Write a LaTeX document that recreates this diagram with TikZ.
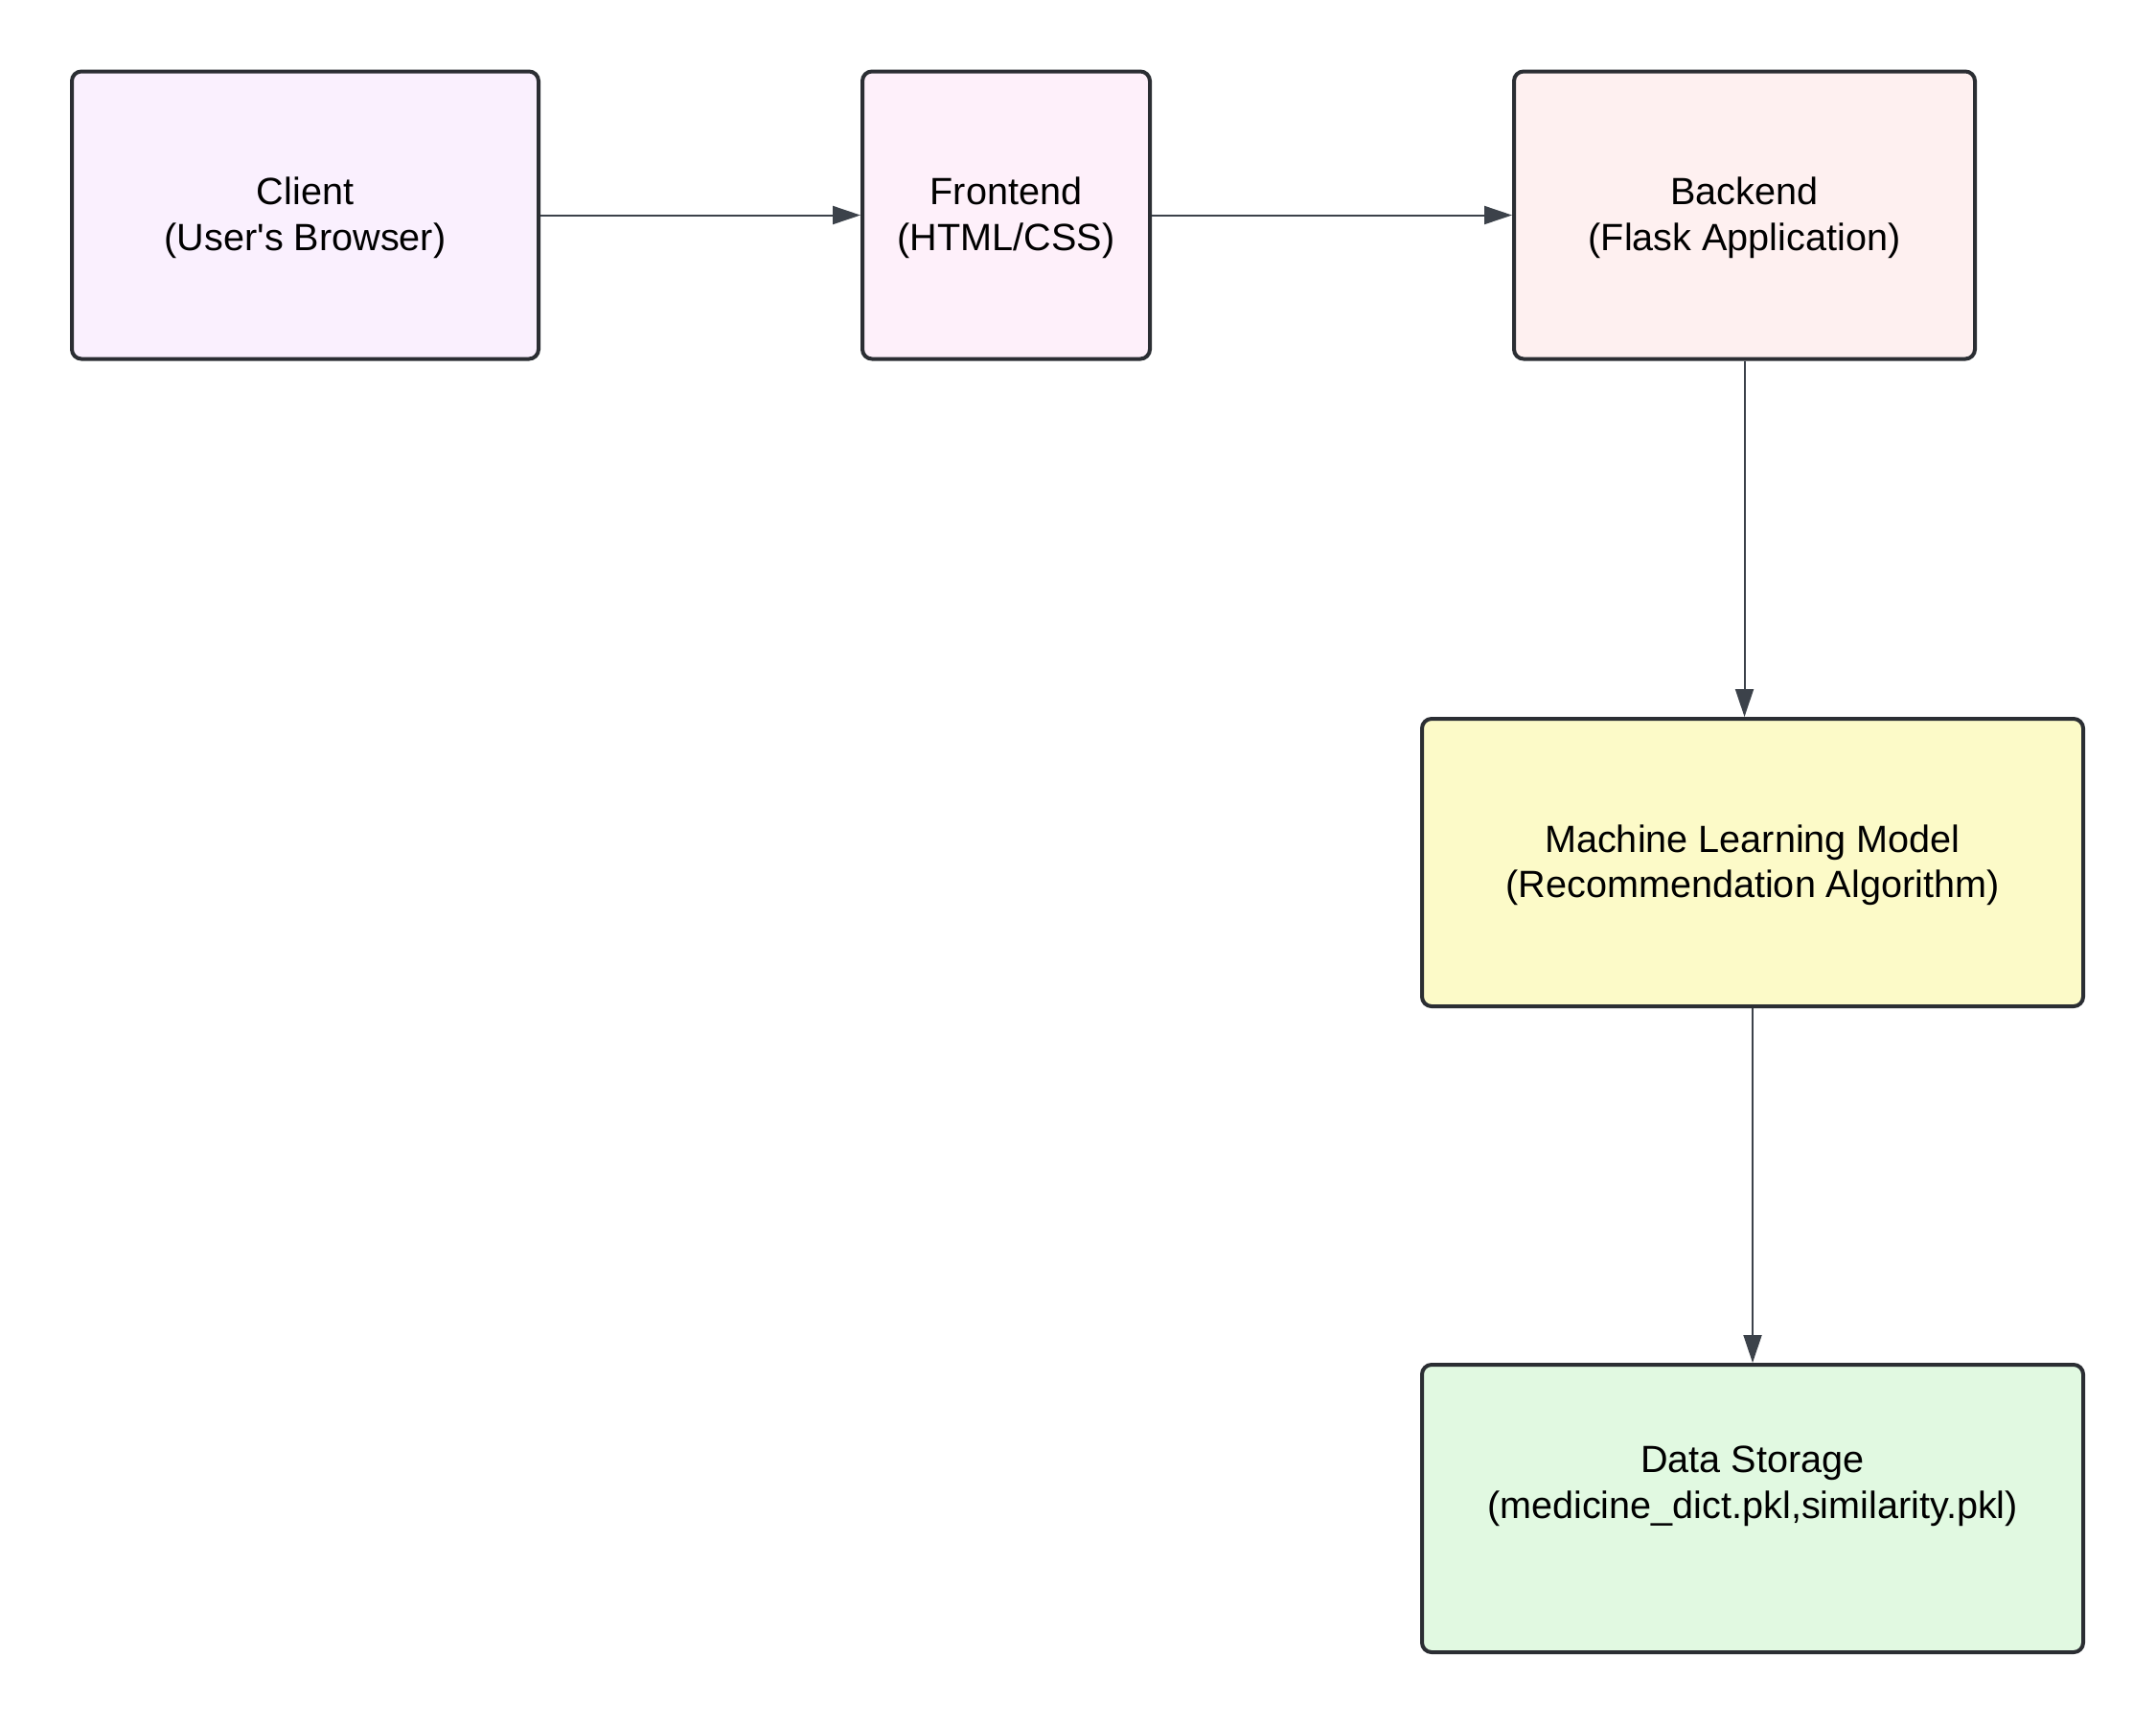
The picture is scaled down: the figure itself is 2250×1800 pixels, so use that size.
\documentclass[tikz,border=0pt]{standalone}
\usepackage{fontspec}
\setmainfont{Liberation Sans}[Ligatures=TeXOff]
\usetikzlibrary{arrows.meta}
\definecolor{boxline}{HTML}{2B2E33}
\definecolor{arrowcol}{HTML}{3C424A}
\definecolor{cClient}{HTML}{FAF0FE}
\definecolor{cFront}{HTML}{FEF0FA}
\definecolor{cBack}{HTML}{FEF0F0}
\definecolor{cML}{HTML}{FCFAC8}
\definecolor{cData}{HTML}{E1F9E1}
\newcommand{\topstrut}{\rule{0pt}{34pt}}
\tikzset{
  box/.style={draw=boxline, line width=4pt, rounded corners=10pt,
    inner sep=0pt, minimum height=300pt, align=center,
    font=\fontsize{39.6pt}{47.5pt}\selectfont, text=black},
  txt/.style={inner sep=0pt, align=center,
    font=\fontsize{39.6pt}{47.5pt}\selectfont, text=black},
  conn/.style={draw=arrowcol, line width=2pt,
    -{Triangle[length=29pt,width=19pt]}}
}
\begin{document}
\begin{tikzpicture}[x=1pt,y=-1pt]
\useasboundingbox[fill=white] (0,0) rectangle (2250,1800);
\node[box, fill=cClient, minimum width=487pt] (client) at (318.5,224.5) {\topstrut Client\\(User's Browser)};
\node[box, fill=cFront, minimum width=300pt] (front) at (1050,224.5) {\topstrut Frontend\\(HTML/CSS)};
\node[box, fill=cBack, minimum width=481pt] (back) at (1820.5,224.5) {\topstrut Backend\\(Flask Application)};
\node[box, fill=cML, minimum width=690pt] (ml) at (1829,900) {\topstrut Machine Learning Model\\(Recommendation Algorithm)};
\node[box, fill=cData, minimum width=690pt] (data) at (1829,1574) {};
\node[txt] (datatxt) at ([yshift=23pt]data.center) {Data Storage\\(medicine\_dict.pkl,similarity.pkl)};
\draw[conn] (client.east) -- (front.west);
\draw[conn] (front.east) -- (back.west);
\draw[conn] (back.south) -- (back.south |- ml.north);
\draw[conn] (ml.south) -- (data.north);
\end{tikzpicture}
\end{document}
